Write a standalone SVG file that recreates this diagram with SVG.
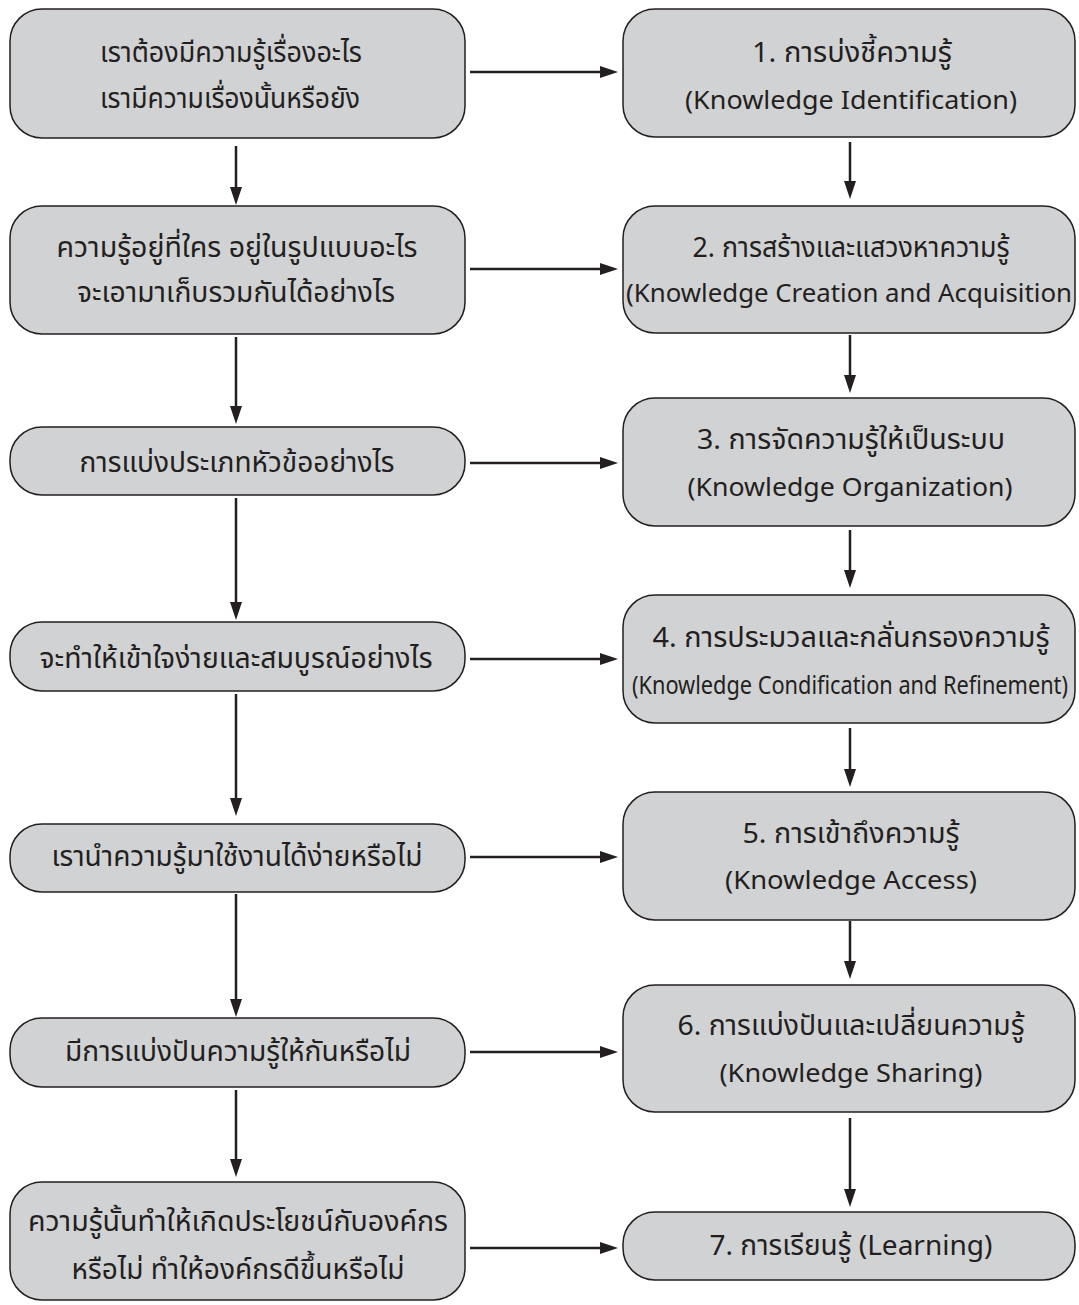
<svg xmlns="http://www.w3.org/2000/svg" width="1079" height="1305" viewBox="0 0 1079 1305">
<style>
.box{fill:#d1d2d4;stroke:#231f20;stroke-width:1.5}
.t{font-family:"Noto Sans","Noto Sans Thai","Open Sans",sans-serif;font-size:28px;fill:#231f20;text-anchor:middle}
.e{font-size:26px}
.c{stroke:#231f20;stroke-width:2.5;fill:none}
</style>
<defs>
<marker id="ah" viewBox="0 0 18 12" refX="8" refY="6" markerWidth="18" markerHeight="12" markerUnits="userSpaceOnUse" orient="auto">
<path d="M0,0 L18,6 L0,12 z" fill="#231f20"/>
</marker>
</defs>
<rect width="1079" height="1305" fill="#ffffff"/>
<g id="connectors">
<path class="c" d="M236,146 V195" marker-end="url(#ah)"/>
<path class="c" d="M236,337 V414" marker-end="url(#ah)"/>
<path class="c" d="M236,498 V610" marker-end="url(#ah)"/>
<path class="c" d="M236,694 V806" marker-end="url(#ah)"/>
<path class="c" d="M236,894 V1007" marker-end="url(#ah)"/>
<path class="c" d="M236,1090 V1167" marker-end="url(#ah)"/>
<path class="c" d="M850,142 V189" marker-end="url(#ah)"/>
<path class="c" d="M850,335 V383" marker-end="url(#ah)"/>
<path class="c" d="M850,530 V578" marker-end="url(#ah)"/>
<path class="c" d="M850,728 V777" marker-end="url(#ah)"/>
<path class="c" d="M850,921 V969" marker-end="url(#ah)"/>
<path class="c" d="M850,1118 V1197" marker-end="url(#ah)"/>
<path class="c" d="M470,72 H608" marker-end="url(#ah)"/>
<path class="c" d="M470,269 H608" marker-end="url(#ah)"/>
<path class="c" d="M470,463 H608" marker-end="url(#ah)"/>
<path class="c" d="M470,659 H608" marker-end="url(#ah)"/>
<path class="c" d="M470,857 H608" marker-end="url(#ah)"/>
<path class="c" d="M470,1052 H608" marker-end="url(#ah)"/>
<path class="c" d="M470,1248 H608" marker-end="url(#ah)"/>
</g>
<g id="L1"><rect class="box" x="10" y="9" width="455" height="129" rx="32"/>
<text class="t" x="231" y="62" textLength="262" lengthAdjust="spacingAndGlyphs">เราต้องมีความรู้เรื่องอะไร</text>
<text class="t" x="230" y="108" textLength="260" lengthAdjust="spacingAndGlyphs">เรามีความเรื่องนั้นหรือยัง</text></g>
<g id="L2"><rect class="box" x="10" y="206" width="455" height="128" rx="32"/>
<text class="t" x="237" y="257" textLength="361" lengthAdjust="spacingAndGlyphs">ความรู้อยู่ที่ใคร อยู่ในรูปแบบอะไร</text>
<text class="t" x="236" y="302" textLength="318" lengthAdjust="spacingAndGlyphs">จะเอามาเก็บรวมกันได้อย่างไร</text></g>
<g id="L3"><rect class="box" x="10" y="427" width="455" height="68" rx="32"/>
<text class="t" x="237" y="472" textLength="315" lengthAdjust="spacingAndGlyphs">การแบ่งประเภทหัวข้ออย่างไร</text></g>
<g id="L4"><rect class="box" x="10" y="622" width="455" height="69" rx="32"/>
<text class="t" x="236" y="668" textLength="393" lengthAdjust="spacingAndGlyphs">จะทำให้เข้าใจง่ายและสมบูรณ์อย่างไร</text></g>
<g id="L5"><rect class="box" x="10" y="824" width="455" height="68" rx="32"/>
<text class="t" x="237" y="866" textLength="371" lengthAdjust="spacingAndGlyphs">เรานำความรู้มาใช้งานได้ง่ายหรือไม่</text></g>
<g id="L6"><rect class="box" x="10" y="1018" width="455" height="69" rx="32"/>
<text class="t" x="238" y="1061" textLength="346" lengthAdjust="spacingAndGlyphs">มีการแบ่งปันความรู้ให้กันหรือไม่</text></g>
<g id="L7"><rect class="box" x="10" y="1182" width="455" height="118" rx="32"/>
<text class="t" x="238" y="1231" textLength="420" lengthAdjust="spacingAndGlyphs">ความรู้นั้นทำให้เกิดประโยชน์กับองค์กร</text>
<text class="t" x="238" y="1279" textLength="333" lengthAdjust="spacingAndGlyphs">หรือไม่ ทำให้องค์กรดีขึ้นหรือไม่</text></g>
<g id="R1"><rect class="box" x="623" y="9" width="452" height="128" rx="32"/>
<text class="t" x="852" y="62" textLength="200" lengthAdjust="spacingAndGlyphs">1. การบ่งชี้ความรู้</text>
<text class="t e" x="851" y="109" textLength="332" lengthAdjust="spacingAndGlyphs">(Knowledge Identification)</text></g>
<g id="R2"><rect class="box" x="623" y="206" width="452" height="127" rx="32"/>
<text class="t" x="851" y="257" textLength="317" lengthAdjust="spacingAndGlyphs">2. การสร้างและแสวงหาความรู้</text>
<text class="t e" x="849" y="302" textLength="446" lengthAdjust="spacingAndGlyphs">(Knowledge Creation and Acquisition</text></g>
<g id="R3"><rect class="box" x="623" y="398" width="452" height="128" rx="32"/>
<text class="t" x="851" y="449" textLength="308" lengthAdjust="spacingAndGlyphs">3. การจัดความรู้ให้เป็นระบบ</text>
<text class="t e" x="850" y="496" textLength="325" lengthAdjust="spacingAndGlyphs">(Knowledge Organization)</text></g>
<g id="R4"><rect class="box" x="623" y="595" width="452" height="128" rx="32"/>
<text class="t" x="851" y="647" textLength="397" lengthAdjust="spacingAndGlyphs">4. การประมวลและกลั่นกรองความรู้</text>
<text class="t e" x="850" y="694" textLength="436" lengthAdjust="spacingAndGlyphs">(Knowledge Condification and Refinement)</text></g>
<g id="R5"><rect class="box" x="623" y="792" width="452" height="128" rx="32"/>
<text class="t" x="851" y="843" textLength="217" lengthAdjust="spacingAndGlyphs">5. การเข้าถึงความรู้</text>
<text class="t e" x="851" y="889" textLength="252" lengthAdjust="spacingAndGlyphs">(Knowledge Access)</text></g>
<g id="R6"><rect class="box" x="623" y="985" width="452" height="127" rx="32"/>
<text class="t" x="851" y="1035" textLength="347" lengthAdjust="spacingAndGlyphs">6. การแบ่งปันและเปลี่ยนความรู้</text>
<text class="t e" x="851" y="1082" textLength="263" lengthAdjust="spacingAndGlyphs">(Knowledge Sharing)</text></g>
<g id="R7"><rect class="box" x="623" y="1212" width="452" height="68" rx="32"/>
<text class="t" x="851" y="1255" textLength="283" lengthAdjust="spacingAndGlyphs">7. การเรียนรู้ (Learning)</text></g>
</svg>
